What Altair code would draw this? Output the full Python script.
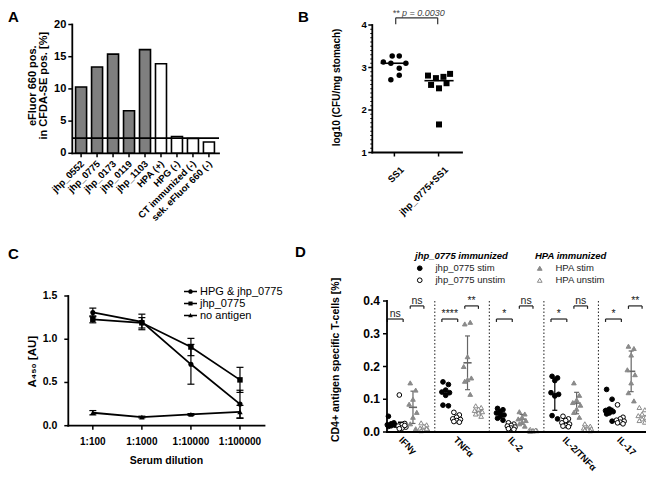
import altair as alt
import pandas as pd
import numpy as np

FONT = "Liberation Sans"
W, H = 638, 464


def X(px):
    return px - 8


def Y(py):
    return py - 8


# ---------------- data: panel A ----------------
a_names = ["jhp_0552", "jhp_0775", "jhp_0173", "jhp_0119", "jhp_1103",
           "HPA (+)", "HPG (-)", "CT immunized (-)", "sek. eFluor 660 (-)"]
a_values = [10.3, 13.4, 15.4, 6.6, 16.1, 13.9, 2.6, 2.3, 1.75]
a_fill = ["#7f7f7f"] * 5 + ["white"] * 4
a_cutoff = [2.35]
a_yticks = [0, 5, 10, 15, 20]

# ---------------- data: panel B ----------------
b_groups = ["SS1", "jhp_0775+SS1"]
b_ss1 = [3.13, 3.27, 3.27, 3.10, 2.98, 3.10, 2.82, 2.71]
b_ss1_jit = [-0.25, -0.05, 0.11, -0.08, 0.11, 0.26, 0.11, -0.08]
b_jhp = [2.81, 2.75, 2.78, 2.85, 2.59, 2.51, 2.63, 1.66]
b_jhp_jit = [-0.24, -0.06, 0.11, 0.26, -0.17, 0.01, 0.18, 0.01]
b_ptext = ["** p = 0.0030"]
b_yticks = [1, 2, 3, 4]

# ---------------- data: panel C ----------------
c_dil = ["1:100", "1:1000", "1:10000", "1:100000"]
c_series = ["HPG & jhp_0775", "jhp_0775", "no antigen"]
c_hpg_mean = [1.31, 1.20, 0.71, 0.25]
c_hpg_err = [0.05, 0.09, 0.23, 0.16]
c_jhp_mean = [1.23, 1.19, 0.91, 0.53]
c_jhp_err = [0.04, 0.06, 0.10, 0.145]
c_no_mean = [0.15, 0.10, 0.13, 0.16]
c_no_err = [0.025, 0.01, 0.01, 0.075]
c_yticks = [0.0, 0.5, 1.0, 1.5]

# ---------------- data: panel D ----------------
d_cyt = ["IFNγ", "TNFα", "IL-2", "IL-2/TNFα", "IL-17"]
d_series = ["jhp_0775 stim", "jhp_0775 unstim", "HPA stim", "HPA unstim"]
d_jhp_stim = [
    [0.048, 0.028, 0.025, 0.022, 0.021, 0.019, 0.017, 0.023],
    [0.153, 0.145, 0.128, 0.122, 0.120, 0.112, 0.082, 0.080],
    [0.072, 0.068, 0.062, 0.058, 0.052, 0.048, 0.042, 0.036],
    [0.170, 0.165, 0.157, 0.120, 0.115, 0.110, 0.050, 0.040],
    [0.130, 0.100, 0.070, 0.065, 0.062, 0.058, 0.055, 0.033]]
d_jhp_unstim = [
    [0.113, 0.026, 0.022, 0.018, 0.015, 0.012, 0.010, 0.020],
    [0.060, 0.052, 0.045, 0.040, 0.038, 0.035, 0.032, 0.030],
    [0.028, 0.024, 0.020, 0.018, 0.015, 0.012, 0.010, 0.008],
    [0.048, 0.040, 0.035, 0.028, 0.024, 0.020, 0.018, 0.016],
    [0.083, 0.045, 0.040, 0.036, 0.033, 0.030, 0.028, 0.025]]
d_hpa_stim = [
    [0.150, 0.128, 0.100, 0.085, 0.060, 0.045, 0.025, 0.010],
    [0.330, 0.335, 0.230, 0.200, 0.165, 0.160, 0.155, 0.115],
    [0.062, 0.055, 0.045, 0.040, 0.035, 0.030, 0.025, 0.018],
    [0.150, 0.112, 0.098, 0.090, 0.082, 0.070, 0.060, 0.045],
    [0.262, 0.255, 0.235, 0.190, 0.175, 0.150, 0.120, 0.095]]
d_hpa_unstim = [
    [0.028, 0.022, 0.018, 0.012, 0.008, 0.005, 0.004, 0.010],
    [0.080, 0.075, 0.070, 0.066, 0.062, 0.058, 0.055, 0.048],
    [0.008, 0.006, 0.005, 0.004, 0.004, 0.003, 0.002, 0.006],
    [0.025, 0.018, 0.014, 0.012, 0.010, 0.008, 0.006, 0.004],
    [0.075, 0.068, 0.055, 0.050, 0.045, 0.040, 0.035, 0.030]]
# which (cytokine, series) cells show an SD whisker in the figure
d_whisker = {"jhp_0775 stim": [False, False, False, True, False],
             "jhp_0775 unstim": [False] * 5,
             "HPA stim": [True] * 5,
             "HPA unstim": [False] * 5}
d_sig_jhp = ["ns", "****", "*", "*", "*"]
d_sig_hpa = ["ns", "**", "ns", "ns", "**"]
d_yticks = [0.0, 0.1, 0.2, 0.3, 0.4]


class Panel:
    def __init__(self, xd, xr, yd, yr):
        self.xs = alt.Scale(domain=xd, range=[X(xr[0]), X(xr[1])], nice=False, zero=False, padding=0)
        self.ys = alt.Scale(domain=yd, range=[Y(yr[0]), Y(yr[1])], nice=False, zero=False, padding=0)
        self.xd, self.yd = xd, yd

    def x(self, f):
        return alt.X(f + ":Q", scale=self.xs, axis=None)

    def y(self, f):
        return alt.Y(f + ":Q", scale=self.ys, axis=None)

    def left_axis(self, ticks, labels, fs, tick_len=4, pad=2, minor=None, minor_len=2):
        x0 = self.xd[0]
        out = [alt.Chart(pd.DataFrame({"x": [x0], "a": [self.yd[0]], "b": [self.yd[1]]})).mark_rule(
            color="black", strokeWidth=1.8, strokeCap="square").encode(x=self.x("x"), y=self.y("a"), y2="b:Q")]
        out.append(alt.Chart(pd.DataFrame({"x": [x0] * len(ticks), "t": ticks})).mark_rule(
            color="black", strokeWidth=1.5, x2Offset=-tick_len).encode(x=self.x("x"), x2="x:Q", y=self.y("t")))
        if minor:
            out.append(alt.Chart(pd.DataFrame({"x": [x0] * len(minor), "t": minor})).mark_rule(
                color="black", strokeWidth=1.0, x2Offset=-minor_len).encode(x=self.x("x"), x2="x:Q", y=self.y("t")))
        out.append(alt.Chart(pd.DataFrame({"x": [x0] * len(ticks), "t": ticks, "lab": labels})).mark_text(
            align="right", baseline="middle", dx=-(tick_len + pad), font=FONT, fontSize=fs, fontWeight="bold",
            color="black").encode(x=self.x("x"), y=self.y("t"), text="lab:N"))
        return out

    def bottom_axis(self, ticks, labels, fs, tick_len=4, angle=0, align="center", xoff=0, yoff=10):
        y0 = self.yd[0]
        out = [alt.Chart(pd.DataFrame({"y": [y0], "a": [self.xd[0]], "b": [self.xd[1]]})).mark_rule(
            color="black", strokeWidth=1.8, strokeCap="square").encode(x=self.x("a"), x2="b:Q", y=self.y("y"))]
        if tick_len:
            out.append(alt.Chart(pd.DataFrame({"y": [y0] * len(ticks), "t": ticks})).mark_rule(
                color="black", strokeWidth=1.5, y2Offset=tick_len).encode(x=self.x("t"), y=self.y("y"), y2="y:Q"))
        out.append(alt.Chart(pd.DataFrame({"y": [y0] * len(ticks), "t": ticks, "lab": labels})).mark_text(
            angle=angle, align=align, baseline="middle", xOffset=xoff, yOffset=yoff, font=FONT, fontSize=fs,
            fontWeight="bold", color="black").encode(x=self.x("t"), y=self.y("y"), text="lab:N"))
        return out

    def text(self, txt, x, y, fs, angle=0, xoff=0, yoff=0, weight="bold", style="normal", color="black",
             align="center", baseline="middle"):
        return alt.Chart(pd.DataFrame({"x": [x], "y": [y], "t": [txt]})).mark_text(
            angle=angle, align=align, baseline=baseline, xOffset=xoff, yOffset=yoff, font=FONT, fontSize=fs,
            fontWeight=weight, fontStyle=style, color=color).encode(x=self.x("x"), y=self.y("y"), text="t:N")


# =============== Panel A ===============
PA = Panel([-0.55, 8.63], (72.3, 219), [0, 20], (153.3, 24.5))
idx = list(range(len(a_names)))
dfA = pd.DataFrame({"i": idx, "name": a_names, "value": a_values, "fill": a_fill, "zero": 0.0})
A_bars = alt.Chart(dfA).mark_bar(orient="vertical", size=11, stroke="black", strokeWidth=1.6).encode(
    x=PA.x("i"), y=PA.y("value"), y2="zero:Q", fill=alt.Fill("fill:N", scale=None))
A_rule = alt.Chart(pd.DataFrame({"v": a_cutoff, "a": [PA.xd[0]], "b": [PA.xd[1]]})).mark_rule(
    color="black", strokeWidth=1.6).encode(y=PA.y("v"), x=PA.x("a"), x2="b:Q")
A = alt.layer(
    A_bars, A_rule,
    *PA.left_axis(a_yticks, [str(t) for t in a_yticks], 11, pad=2),
    *PA.bottom_axis(idx, a_names, 9.5, angle=315, align="right", xoff=1.5, yoff=9),
    PA.text("eFluor 660 pos.", PA.xd[0], 10.5, 11, angle=270, xoff=-39.5),
    PA.text("in CFDA-SE pos. [%]", PA.xd[0], 10.5, 11, angle=270, xoff=-28),
)

# =============== Panel B ===============
PB = Panel([0.5, 2.53], (372.3, 462), [1, 4], (152.5, 25))
dfB = pd.DataFrame({
    "x": [1 + j for j in b_ss1_jit] + [2 + j for j in b_jhp_jit],
    "value": b_ss1 + b_jhp,
    "grp": [b_groups[0]] * len(b_ss1) + [b_groups[1]] * len(b_jhp)})
B_circ = alt.Chart(dfB).transform_filter(alt.datum.grp == b_groups[0]).mark_point(
    shape="circle", filled=True, size=30, color="black", opacity=1).encode(x=PB.x("x"), y=PB.y("value"))
B_sq = alt.Chart(dfB).transform_filter(alt.datum.grp == b_groups[1]).mark_point(
    shape="square", filled=True, size=36, color="black", opacity=1).encode(x=PB.x("x"), y=PB.y("value"))
dfBm = pd.DataFrame({"a": [1 - 0.31, 2 - 0.32], "b": [1 + 0.31, 2 + 0.34],
                     "med": [float(np.median(b_ss1)), float(np.median(b_jhp))]})
B_med = alt.Chart(dfBm).mark_rule(color="black", strokeWidth=1.6).encode(
    x=PB.x("a"), x2="b:Q", y=PB.y("med"))
dfBr = pd.DataFrame({"a": [1.03, 1.03, 1.98], "b": [1.98, 1.03, 1.98],
                     "y1": [4.17, 4.17, 4.17], "y2": [4.17, 4.02, 4.02]})
B_br = alt.Chart(dfBr).mark_rule(color="#333", strokeWidth=1.2).encode(
    x=PB.x("a"), x2="b:Q", y=PB.y("y1"), y2="y2:Q")
minor_b = [round(1 + 0.1 * k, 1) for k in range(31) if k % 10 != 0]
B = alt.layer(
    B_circ, B_sq, B_med, B_br,
    PB.text(b_ptext[0], 1.55, 4.205, 9, weight="normal", style="italic", color="#444",
            baseline="alphabetic"),
    *PB.left_axis(b_yticks, [str(t) for t in b_yticks], 9.5, pad=1.5, minor=minor_b),
    *PB.bottom_axis([1, 2], b_groups, 9.5, angle=315, align="right", xoff=8, yoff=16),
    PB.text("log10 (CFU/mg stomach)", PB.xd[0], 2.53, 10, angle=270, xoff=-35),
)

# =============== Panel C ===============
PC = Panel([-0.5, 3.5], (68.3, 264.5), [0, 1.5], (425.7, 296))
rows = []
for s, m, e in zip(c_series, [c_hpg_mean, c_jhp_mean, c_no_mean], [c_hpg_err, c_jhp_err, c_no_err]):
    for i, (d, mv, ev) in enumerate(zip(c_dil, m, e)):
        rows.append(dict(series=s, dil=d, i=i, mean=mv, lo=mv - ev, hi=mv + ev))
dfC = pd.DataFrame(rows)
C_line = alt.Chart(dfC).mark_line(color="black", strokeWidth=1.8).encode(
    x=PC.x("i"), y=PC.y("mean"), detail="series:N")
C_err = alt.Chart(dfC).mark_rule(color="black", strokeWidth=1.2).encode(
    x=PC.x("i"), y=PC.y("lo"), y2="hi:Q")
C_cap = alt.Chart(dfC).transform_fold(["lo", "hi"], as_=["k", "v"]).mark_rule(
    color="black", strokeWidth=1.2, xOffset=-3.5, x2Offset=3.5).encode(
    x=PC.x("i"), x2="i:Q", y=PC.y("v"))
c_shapes = ["circle", "square", "triangle-up"]
c_sizes = [26, 30, 30]
C_pts = [alt.Chart(dfC).transform_filter(alt.datum.series == s).mark_point(
    shape=sh, size=sz, filled=True, color="black", opacity=1).encode(x=PC.x("i"), y=PC.y("mean"))
    for s, sh, sz in zip(c_series, c_shapes, c_sizes)]
bar = "M-1.18,-0.13H1.18V0.13H-1.18Z"
c_paths = [bar + "M0.42,0A0.42,0.42,0,1,1,-0.42,0A0.42,0.42,0,1,1,0.42,0Z",
           bar + "M-0.38,-0.38H0.38V0.38H-0.38Z",
           bar + "M0,-0.45L0.42,0.3H-0.42Z"]
C_leg = alt.Chart(dfC).transform_filter("false").mark_point(filled=True, color="black", opacity=1).encode(
    shape=alt.Shape("series:N", scale=alt.Scale(domain=c_series, range=c_paths),
                    legend=alt.Legend(orient="none", legendX=X(185), legendY=Y(286), title=None,
                                      labelFont=FONT, labelFontSize=11, labelColor="black",
                                      symbolSize=121, labelOffset=4, rowPadding=0, padding=0,
                                      symbolFillColor="black", symbolStrokeWidth=0)))
C = alt.layer(
    C_line, C_err, C_cap, *C_pts, C_leg,
    *PC.left_axis(c_yticks, ["%.1f" % t for t in c_yticks], 10.5, pad=7),
    *PC.bottom_axis(list(range(len(c_dil))), c_dil, 10, yoff=16),
    PC.text("A₄₅₀ [AU]", PC.xd[0], 0.74, 11.5, angle=270, xoff=-35.6),
    PC.text("Serum dilution", 1.5, 0, 10.5, yoff=35),
)

# =============== Panel D ===============
PD = Panel([-0.376, 4.5], (387, 653), [0, 0.4], (432, 301))
d_sub = [-0.3, -0.1, 0.1, 0.3]
d_jit = [-0.05, 0.05, 0.0, -0.07, 0.07, 0.0, -0.05, 0.05]
d_col = ["black", "black", "#666666", "#8a8a8a"]
rows = []
for gi in range(len(d_cyt)):
    for si, arr in enumerate([d_jhp_stim, d_jhp_unstim, d_hpa_stim, d_hpa_unstim]):
        for pi, v in enumerate(arr[gi]):
            rows.append(dict(g=gi, series=d_series[si], value=v, x=gi + d_sub[si] + d_jit[pi]))
dfD = pd.DataFrame(rows)
st = dfD.groupby(["g", "series"], sort=False)["value"].agg(["mean", "std"]).reset_index()
st["pos"] = st["g"] + st["series"].map(dict(zip(d_series, d_sub)))
st["col"] = st["series"].map(dict(zip(d_series, d_col)))
st["lo"] = st["mean"] - st["std"]
st["hi"] = st["mean"] + st["std"]
st["m1"] = st["pos"] - 0.075
st["m2"] = st["pos"] + 0.075
st["wh"] = [d_whisker[s][g] for g, s in zip(st["g"], st["series"])]
stw = st[st["wh"]].drop(columns=["wh"])
st = st.drop(columns=["wh"])

dfSep = pd.DataFrame({"x": [0.5, 1.5, 2.5, 3.5], "y1": [0] * 4, "y2": [0.4] * 4})
D_sep = alt.Chart(dfSep).mark_rule(color="#333", strokeWidth=1.1, strokeDash=[1.5, 2]).encode(
    x=PD.x("x"), y=PD.y("y1"), y2="y2:Q")
D_whisk = alt.Chart(stw).mark_rule(strokeWidth=1.2).encode(
    x=PD.x("pos"), y=PD.y("lo"), y2="hi:Q", color=alt.Color("col:N", scale=None))
D_caps = alt.Chart(stw).transform_fold(["lo", "hi"], as_=["k", "v"]).mark_rule(
    strokeWidth=1.2, xOffset=-2.5, x2Offset=2.5).encode(
    x=PD.x("pos"), x2="pos:Q", y=PD.y("v"), color=alt.Color("col:N", scale=None))
D_mean = alt.Chart(st).mark_rule(strokeWidth=1.6).encode(
    x=PD.x("m1"), x2="m2:Q", y=PD.y("mean"), color=alt.Color("col:N", scale=None))

leg_common = dict(orient="none", labelFont=FONT, labelFontSize=9.5, labelColor="#222",
                  titleFont=FONT, titleFontSize=9.5, titleFontWeight="bold", titleFontStyle="italic",
                  titleColor="black", titlePadding=3, rowPadding=1, padding=0, labelOffset=11,
                  symbolSize=22, legendY=Y(251))
D_pj = alt.Chart(dfD).transform_filter(alt.FieldOneOfPredicate(field="series", oneOf=d_series[:2])).mark_point(
    shape="circle", size=22, stroke="black", strokeWidth=1, opacity=1).encode(
    x=PD.x("x"), y=PD.y("value"),
    fill=alt.Fill("series:N", scale=alt.Scale(domain=d_series[:2], range=["black", "white"]),
                  legend=alt.Legend(title="jhp_0775 immunized", legendX=X(415), symbolType="circle",
                                    symbolStrokeColor="black", symbolStrokeWidth=1, **leg_common)))
D_ph = alt.Chart(dfD).transform_filter(alt.FieldOneOfPredicate(field="series", oneOf=d_series[2:])).mark_point(
    shape="triangle-up", size=22, stroke="#8a8a8a", strokeWidth=1, opacity=1).encode(
    x=PD.x("x"), y=PD.y("value"),
    fill=alt.Fill("series:N", scale=alt.Scale(domain=d_series[2:], range=["#8a8a8a", "white"]),
                  legend=alt.Legend(title="HPA immunized", legendX=X(535), symbolType="triangle-up",
                                    symbolStrokeColor="#8a8a8a", symbolStrokeWidth=1, **leg_common)))

br_rows = []
txt_rows = []
for gi in range(len(d_cyt)):
    for (a, b, yv, lab) in [(-0.37, -0.08, 0.345, d_sig_jhp[gi]), (0.05, 0.30, 0.385, d_sig_hpa[gi])]:
        x1, x2 = gi + a, gi + b
        br_rows += [dict(a=x1, b=x2, y1=yv, y2=yv), dict(a=x1, b=x1, y1=yv, y2=yv - 0.009),
                    dict(a=x2, b=x2, y1=yv, y2=yv - 0.009)]
        txt_rows.append(dict(x=(x1 + x2) / 2, y=yv + 0.006, t=lab))
D_br = alt.Chart(pd.DataFrame(br_rows)).mark_rule(color="#222", strokeWidth=1.2).encode(
    x=PD.x("a"), x2="b:Q", y=PD.y("y1"), y2="y2:Q")
D_txt = alt.Chart(pd.DataFrame(txt_rows)).mark_text(font=FONT, fontSize=10.5, color="#222",
                                                     baseline="alphabetic").encode(
    x=PD.x("x"), y=PD.y("y"), text="t:N")

D = alt.layer(
    D_sep, D_whisk, D_caps, D_mean, D_pj, D_ph, D_br, D_txt,
    *PD.left_axis(d_yticks, ["%.1f" % t for t in d_yticks], 12, pad=3),
    *PD.bottom_axis(list(range(len(d_cyt))), d_cyt, 9.4, tick_len=0, angle=45, align="left",
                    xoff=-7, yoff=6.5),
    PD.text("CD4+ antigen specific T-cells [%]", PD.xd[0], 0.22, 10.5, angle=270, xoff=-51),
).resolve_scale(fill="independent")


# =============== panel letters ===============
def letter(t, x, y):
    return alt.Chart(pd.DataFrame({"t": [t]})).mark_text(
        font=FONT, fontSize=15, fontWeight="bold", align="left", baseline="top", color="black").encode(
        text="t:N", x=alt.value(x), y=alt.value(y))


letters = [letter("A", 0, 2), letter("B", X(298), 2), letter("C", 0, Y(247)), letter("D", X(295), Y(245))]

chart = alt.layer(A, B, C, D, *letters).resolve_scale(x="independent", y="independent").properties(
    width=W, height=H, autosize=alt.AutoSizeParams(type="none"), padding=0
).configure_view(stroke=None)

chart.save("out.html", embed_options={"renderer": "svg", "actions": False})
